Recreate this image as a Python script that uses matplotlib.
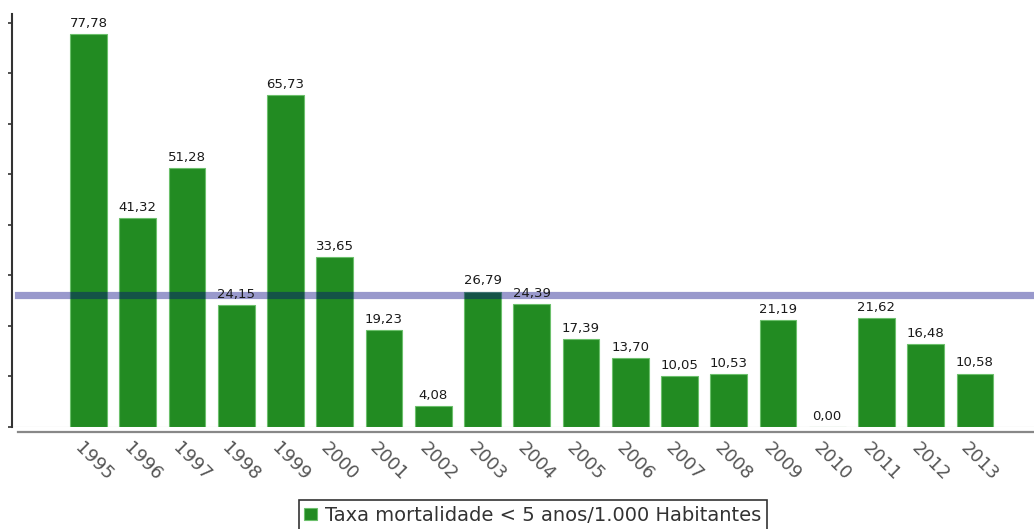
import matplotlib
matplotlib.use("Agg")
import matplotlib.pyplot as plt
from matplotlib.transforms import ScaledTranslation
from matplotlib.lines import Line2D

years = ["1995", "1996", "1997", "1998", "1999", "2000", "2001", "2002", "2003", "2004",
         "2005", "2006", "2007", "2008", "2009", "2010", "2011", "2012", "2013"]
values = [77.78, 41.32, 51.28, 24.15, 65.73, 33.65, 19.23, 4.08, 26.79, 24.39,
          17.39, 13.70, 10.05, 10.53, 21.19, 0.00, 21.62, 16.48, 10.58]
reference_value = 26.15
yticks = [0, 10, 20, 30, 40, 50, 60, 70, 80]
legend_label = "Taxa mortalidade < 5 anos/1.000 Habitantes"

W, H = 1034, 529
fig = plt.figure(figsize=(W / 100, H / 100), dpi=100)
ax = fig.add_axes([12 / W, (H - 427) / H, 1 - 12 / W, 413 / H])

x = list(range(len(years)))
bars = ax.bar(x, values, width=0.75, color="#228B22", edgecolor="#6cc06c",
              linewidth=0.8, zorder=2, label=legend_label)

ax.axhline(reference_value, xmin=6 / (W - 12), xmax=1, color="#000080",
           alpha=0.4, linewidth=5.2, zorder=3)

for xi, v in zip(x, values):
    ax.annotate(f"{v:.2f}".replace(".", ","), (xi, v), xytext=(0, 3),
                textcoords="offset points", ha="center", va="bottom",
                fontsize=9.5, color="#1a1a1a", zorder=4)

ax.set_xlim(-1.553, 19.198)
ax.set_ylim(0, 81.7)
ax.set_yticks(yticks)
ax.set_yticklabels([])
ax.tick_params(axis="y", direction="out", length=3, width=1.2, color="#333333")
ax.set_xticks(x)
ax.set_xticklabels(years, rotation=-45, ha="left", va="top",
                   rotation_mode="anchor", fontsize=13, color="#555555")
ax.tick_params(axis="x", length=0, pad=9)
offset = ScaledTranslation(-5 / 100, 0, fig.dpi_scale_trans)
for lab in ax.get_xticklabels():
    lab.set_transform(lab.get_transform() + offset)

for s in ["top", "right", "bottom"]:
    ax.spines[s].set_visible(False)
ax.spines["left"].set_color("#333333")
ax.spines["left"].set_linewidth(1.5)
ax.axhline(0, color="#eeeeee", linewidth=1, zorder=1)

fig.add_artist(Line2D([18 / W, 1], [(H - 432) / H] * 2, transform=fig.transFigure,
                      color="#888888", linewidth=1.6))

leg = fig.legend(handles=[bars], labels=[legend_label], loc="upper center",
                 bbox_to_anchor=(533 / W, (H - 500) / H), borderaxespad=0,
                 fontsize=14, frameon=True, fancybox=False, edgecolor="#000000",
                 handlelength=0.62, handleheight=0.62, handletextpad=0.45,
                 borderpad=0.3, labelcolor="#333333")
leg.get_frame().set_linewidth(1.2)

fig.savefig("out.png", dpi=100)
